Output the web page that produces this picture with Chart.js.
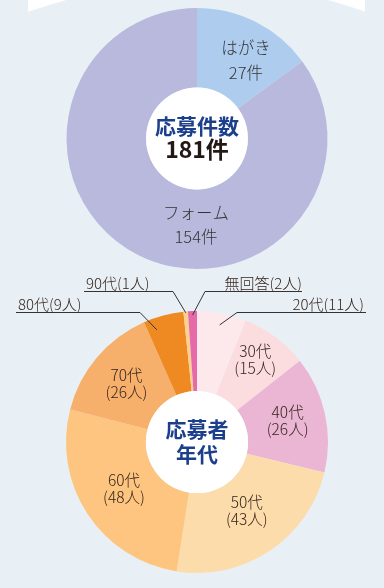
<!DOCTYPE html>
<html><head><meta charset="utf-8">
<script src="https://cdn.jsdelivr.net/npm/chart.js@4.4.0/dist/chart.umd.min.js"></script>
<style>
html,body{margin:0;padding:0;background:#e9f0f5;}
#wrap{position:relative;width:384px;height:588px;overflow:hidden;background:#e9f0f5;}
canvas{position:absolute;left:0;top:0;}
</style></head><body>
<div id="wrap"><canvas id="c1" width="384" height="588"></canvas><canvas id="c2" width="384" height="588"></canvas></div>
<script>
// ---- data ----
const methodCategories = ['はがき', 'フォーム'];
const methodValues = [27, 154];
const methodUnit = '件';
const methodTitle = ['応募件数', '181件'];

const ageCategories = ['20代', '30代', '40代', '50代', '60代', '70代', '80代', '90代', '無回答'];
const ageValues = [11, 15, 26, 43, 48, 26, 9, 1, 2];
const ageUnit = '人';
const ageTitle = ['応募者', '年代'];

// ---- styles ----
const methodColors = ['#aecdee', '#b9b9de'];
const ageColors = ['#fde9ec', '#fbdde0', '#ebb5d4', '#fcdcab', '#fdc57f', '#f7b06b', '#ef8a22', '#fcd08e', '#e46aa9'];
const FONT = '"Noto Sans CJK JP", "Noto Sans", sans-serif';

const methodLabelStyles = [
  {mode: 'in', r: 0.71, da: 5, size: 16.5, lh: 25},
  {mode: 'in', r: 0.66, da: -26.2, size: 16.5, lh: 24}
];
const ageLabelStyles = [
  {mode: 'out', r: 0.91, da: 0, ex: 237, ey: 312, hx: 366, tx: 364, ty: 304, align: 'right'},
  {mode: 'in', r: 0.77, da: -1.5, size: 15.5, lh: 17},
  {mode: 'in', r: 0.71, da: -0.6, size: 15.5, lh: 17},
  {mode: 'in', r: 0.65, da: -2, size: 15.5, lh: 17},
  {mode: 'in', r: 0.66, da: 1, size: 15.5, lh: 17},
  {mode: 'in', r: 0.70, da: -0.6, size: 15.5, lh: 17},
  {mode: 'out', r: 0.91, da: -4.8, ex: 140, ey: 312, hx: 16, tx: 18, ty: 304, align: 'left'},
  {mode: 'out', r: 0.99, da: 0, ex: 173, ey: 291, hx: 84, tx: 86, ty: 283, align: 'left'},
  {mode: 'out', r: 0.97, da: 0, ex: 205, ey: 291, hx: 302, tx: 302, ty: 283, align: 'right'}
];

const methodTexts = methodCategories.map((c, i) => [c, methodValues[i] + methodUnit]);
const ageTexts = ageCategories.map((c, i) => ageLabelStyles[i].mode === 'in'
  ? [c, '(' + ageValues[i] + ageUnit + ')']
  : [c + '(' + ageValues[i] + ageUnit + ')']);

const topShape = {
  id: 'topShape',
  beforeDraw(chart) {
    const ctx = chart.ctx;
    ctx.save();
    ctx.beginPath();
    ctx.rect(28, 0, 337, 12);
    ctx.clip();
    ctx.fillStyle = '#ffffff';
    ctx.beginPath();
    ctx.rect(0, -10, 384, 30);
    ctx.arc(197, 492, 509, 0, Math.PI * 2, true);
    ctx.fill('evenodd');
    ctx.restore();
  }
};

const sliceLabels = {
  id: 'sliceLabels',
  afterDatasetsDraw(chart, args, opts) {
    const ctx = chart.ctx;
    const meta = chart.getDatasetMeta(0);
    const a0 = meta.data[0];
    const cx = a0.x, cy = a0.y;
    ctx.save();
    ctx.fillStyle = '#ffffff';
    ctx.beginPath();
    ctx.arc(cx, cy, a0.innerRadius, 0, Math.PI * 2);
    ctx.fill();
    meta.data.forEach((arc, i) => {
      const st = opts.styles[i];
      const lines = opts.texts[i];
      const p = arc.getProps(['startAngle', 'endAngle', 'outerRadius']);
      const mid = (p.startAngle + p.endAngle) / 2 + st.da * Math.PI / 180;
      const R = p.outerRadius * st.r;
      const x = cx + Math.cos(mid) * R, y = cy + Math.sin(mid) * R;
      ctx.fillStyle = opts.color;
      ctx.textBaseline = 'middle';
      if (st.mode === 'in') {
        ctx.font = '300 ' + st.size + 'px ' + FONT;
        ctx.textAlign = 'center';
        const y0 = y - (lines.length - 1) * st.lh / 2;
        lines.forEach((t, k) => ctx.fillText(t, x, y0 + k * st.lh));
      } else {
        ctx.strokeStyle = '#333333';
        ctx.lineWidth = 1;
        ctx.beginPath();
        ctx.moveTo(x, y);
        ctx.lineTo(st.ex, st.ey + 0.5);
        ctx.lineTo(st.hx, st.ey + 0.5);
        ctx.stroke();
        ctx.font = '300 15px ' + FONT;
        ctx.textAlign = st.align;
        ctx.fillText(lines[0], st.tx, st.ty);
      }
    });
    // center title
    ctx.textAlign = 'center';
    ctx.textBaseline = 'middle';
    opts.title.forEach((t, k) => {
      const s = opts.titleStyles[k];
      ctx.font = 'bold ' + s.size + 'px ' + FONT;
      ctx.fillStyle = s.color;
      ctx.fillText(t, cx, cy + s.dy);
    });
    ctx.restore();
  }
};

function makeChart(id, cats, vals, colors, padding, labelOpts, extraPlugins) {
  return new Chart(document.getElementById(id), {
    type: 'doughnut',
    data: {labels: cats, datasets: [{data: vals, backgroundColor: colors, borderWidth: 0}]},
    options: {
      responsive: false, maintainAspectRatio: false, animation: false, devicePixelRatio: 1,
      cutout: '39%',
      layout: {padding: padding},
      plugins: {legend: {display: false}, tooltip: {enabled: false}, sliceLabels: labelOpts}
    },
    plugins: extraPlugins.concat([sliceLabels])
  });
}

makeChart('c1', methodCategories, methodValues, methodColors,
  {left: 66, right: 56, top: 8, bottom: 319},
  {styles: methodLabelStyles, texts: methodTexts, color: '#333333', title: methodTitle,
   titleStyles: [{size: 21, color: '#1c3f8c', dy: -12}, {size: 23, color: '#231815', dy: 11}]},
  [topShape]);

makeChart('c2', ageCategories, ageValues, ageColors,
  {left: 66, right: 56, top: 311, bottom: 15},
  {styles: ageLabelStyles, texts: ageTexts, color: '#35251d', title: ageTitle,
   titleStyles: [{size: 21, color: '#1c3f8c', dy: -13}, {size: 21, color: '#1c3f8c', dy: 12}]},
  []);
</script>
</body></html>
